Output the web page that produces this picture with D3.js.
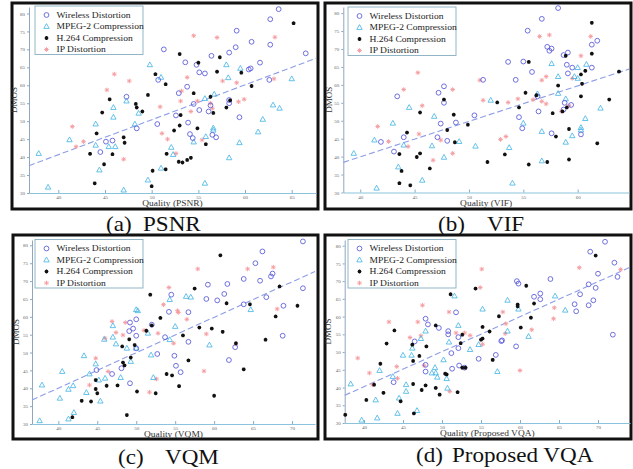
<!DOCTYPE html>
<html>
<head>
<meta charset="utf-8">
<title>DMOS vs quality</title>
<script src="https://cdn.jsdelivr.net/npm/d3@7"></script>
<style>
  body { margin: 0; background: #fff; }
</style>
</head>
<body>
<script>
// ---- data (quality score, DMOS) ----
var seriesNames = ["Wireless Distortion", "MPEG-2 Compression", "H.264 Compression", "IP Distortion"];
var metricNames = ["PSNR", "VIF", "VQM", "Proposed VQA"];
var captionTags = ["(a)", "(b)", "(c)", "(d)"];

var psnrWireless = [[63.6,81.2],[62.7,78.4],[59.1,75.2],[51.3,70.0],[59.0,70.6],[60.7,72.1],[62.7,71.3],[66.5,68.9],[56.4,68.2],[58.3,69.1],[53.6,66.4],[54.8,65.7],[55.1,63.6],[55.7,63.3],[61.6,66.3],[60.6,64.7],[60.4,64.4],[50.7,61.5],[53.8,59.6],[52.9,57.8],[62.6,61.5],[47.3,56.8],[54.5,54.8],[56.3,54.4],[58.3,55.9],[58.3,55.0],[55.1,53.1],[56.1,52.7],[52.6,51.6],[59.4,51.1],[50.6,49.2],[53.9,49.6],[54.1,46.4],[54.4,45.3],[56.5,46.2],[56.9,45.5],[48.4,48.0],[45.8,44.6],[45.1,44.3],[44.5,41.4]];
var psnrMpeg2 = [[37.9,41.0],[38.9,31.6],[41.2,44.8],[44.0,49.2],[44.0,43.3],[44.4,36.4],[45.4,42.9],[45.9,53.8],[45.9,51.1],[46.1,42.9],[47.0,30.8],[47.3,55.6],[48.2,49.2],[48.6,52.2],[49.8,65.7],[51.0,62.2],[49.6,33.6],[51.0,36.9],[52.1,42.7],[52.3,40.7],[54.5,44.2],[55.7,32.7],[55.7,56.3],[55.8,45.7],[56.7,57.5],[56.6,48.1],[56.6,47.5],[58.0,65.7],[58.2,62.1],[58.3,39.8],[59.4,44.0],[59.5,64.7],[61.4,47.0],[61.9,50.5],[63.0,54.5],[63.7,53.6],[65.0,61.8]];
var psnrH264 = [[65.2,77.3],[53.0,68.7],[57.3,67.8],[55.0,66.3],[57.0,63.8],[59.6,63.5],[50.4,63.1],[51.5,60.3],[49.6,57.3],[45.5,56.1],[60.7,59.8],[54.5,57.8],[56.3,56.8],[58.4,55.8],[48.3,54.8],[48.4,53.8],[58.0,53.8],[44.7,52.4],[49.0,52.7],[56.6,52.3],[53.1,51.7],[53.0,48.8],[54.9,48.0],[52.4,47.4],[44.1,46.6],[47.0,45.5],[47.1,44.0],[43.4,40.9],[45.8,40.8],[51.6,40.9],[55.8,43.6],[44.9,38.0],[52.9,38.7],[53.3,38.5],[53.8,39.2],[54.2,39.8],[50.1,36.2],[51.5,36.6],[43.9,32.7],[50.0,31.9]];
var psnrIP = [[54.5,73.8],[57.0,73.3],[63.2,73.4],[46.0,63.1],[47.6,61.2],[45.2,58.7],[53.8,62.2],[53.2,58.4],[57.6,61.2],[59.1,60.7],[63.1,61.8],[59.9,56.1],[59.3,55.4],[53.1,55.6],[54.9,55.6],[56.3,55.0],[56.5,53.6],[50.9,54.0],[54.2,52.7],[41.5,48.5],[41.9,42.9],[42.7,44.3],[47.0,39.4],[51.1,46.6],[51.7,45.0],[52.6,41.0],[55.4,44.8]];

var vifWireless = [[58.2,81.4],[56.7,78.4],[55.4,75.1],[57.2,70.6],[57.6,70.1],[57.4,69.5],[61.8,72.3],[61.3,71.2],[58.7,68.3],[59.1,69.0],[53.6,66.4],[55.0,66.5],[59.0,65.6],[59.5,64.8],[61.3,64.8],[55.8,63.6],[59.1,63.2],[51.3,61.4],[54.3,61.4],[43.4,56.8],[47.2,57.8],[47.7,59.6],[47.7,55.0],[56.3,56.8],[56.4,52.6],[58.8,55.0],[58.7,53.1],[59.4,54.4],[50.5,51.5],[54.6,51.0],[47.4,49.2],[48.8,49.5],[54.9,47.9],[57.6,46.5],[60.3,46.2],[44.0,45.4],[47.1,45.4],[41.9,44.1],[43.1,41.4],[48.0,44.4]];
var vifMpeg2 = [[39.4,40.9],[41.3,44.6],[41.5,31.2],[43.0,49.3],[43.5,37.1],[44.0,43.2],[44.5,53.7],[45.7,33.4],[46.6,43.0],[46.8,51.2],[47.7,39.8],[49.1,44.2],[50.6,42.9],[52.0,55.7],[53.7,42.5],[54.0,32.6],[55.0,49.3],[56.3,57.5],[56.7,47.0],[56.7,38.8],[57.6,65.9],[58.2,62.3],[58.2,57.6],[58.9,56.1],[58.9,44.0],[59.5,45.8],[59.7,62.3],[60.0,61.8],[60.0,64.8],[60.3,48.1],[60.3,47.4],[60.7,50.6],[60.8,65.7],[62.1,53.5]];
var vifH264 = [[61.3,77.3],[61.3,68.7],[58.9,68.1],[55.5,66.4],[60.7,63.9],[60.3,62.9],[63.8,63.7],[58.2,59.8],[60.4,60.3],[56.2,57.1],[55.2,57.8],[60.3,56.8],[62.9,55.9],[47.7,55.9],[52.6,55.1],[54.6,53.7],[45.5,52.3],[48.6,51.7],[57.7,52.1],[58.6,52.6],[59.0,53.7],[49.9,48.9],[48.0,47.4],[59.2,47.7],[44.3,46.7],[58.0,45.6],[48.7,44.0],[61.8,43.7],[43.6,40.7],[45.5,40.9],[45.2,39.9],[53.3,40.6],[51.7,38.5],[55.5,37.8],[57.2,38.5],[59.2,39.2],[46.4,36.7],[43.8,36.0],[43.6,32.6],[44.6,32.0]];
var vifIP = [[56.5,73.5],[57.4,73.9],[61.2,73.5],[45.3,63.4],[60.3,68.1],[56.7,61.3],[57.1,62.3],[51.0,61.3],[44.0,58.7],[48.5,58.7],[59.5,61.8],[51.3,55.7],[53.6,55.1],[54.5,56.1],[55.9,55.9],[56.7,55.4],[57.1,54.7],[58.5,52.6],[45.7,54.2],[41.6,48.4],[42.6,44.2],[45.4,46.3],[44.4,42.8],[47.4,44.6],[46.7,39.0],[48.5,40.9],[52.9,44.8],[53.4,45.6],[59.2,54.2]];

var vqmWireless = [[71.4,81.1],[66.2,78.3],[65.3,75.0],[63.8,70.6],[65.9,70.1],[67.3,71.3],[67.5,72.1],[59.2,69.0],[61.7,69.2],[61.3,66.4],[59.0,65.0],[60.4,64.6],[54.5,66.2],[63.8,63.5],[66.7,65.5],[68.9,63.1],[71.4,68.0],[54.2,61.4],[56.7,61.3],[50.0,59.3],[52.0,57.8],[49.2,58.4],[49.6,56.7],[49.1,56.0],[50.0,54.7],[53.7,54.3],[56.7,53.0],[68.8,54.7],[52.7,49.6],[54.9,49.1],[61.9,47.9],[62.7,51.5],[55.1,46.3],[55.7,44.5],[48.1,45.6],[46.9,44.0],[44.9,45.1],[49.2,41.4],[50.0,51.2]];
var vqmMpeg2 = [[37.6,30.9],[37.9,40.9],[40.2,37.2],[40.5,44.7],[41.3,39.7],[41.3,31.4],[41.9,40.7],[42.0,33.2],[43.3,49.1],[43.6,38.8],[44.0,44.0],[44.8,46.8],[45.2,42.3],[45.4,36.4],[46.0,42.8],[45.9,53.7],[47.0,54.3],[47.0,57.5],[47.4,52.4],[48.0,43.0],[48.8,51.2],[49.3,47.5],[50.0,62.0],[50.2,61.7],[50.0,51.2],[51.5,55.4],[51.9,49.3],[52.2,43.0],[54.3,64.8],[54.3,53.6],[55.0,57.3],[56.4,65.7],[57.0,65.5],[59.4,52.1],[64.7,62.0]];
var vqmH264 = [[60.8,77.2],[68.4,68.5],[57.5,67.9],[51.8,66.2],[61.6,63.8],[64.6,63.5],[70.7,63.1],[67.9,60.1],[53.1,59.7],[51.3,56.1],[52.0,57.6],[58.1,57.0],[59.7,56.7],[61.1,55.8],[56.0,54.8],[66.6,53.6],[62.8,52.6],[49.1,53.7],[48.2,51.7],[49.8,52.1],[49.3,48.6],[56.7,47.8],[48.3,47.2],[48.5,46.4],[53.9,44.0],[54.6,43.6],[63.8,45.3],[44.8,42.3],[46.2,40.7],[47.6,40.8],[55.5,40.6],[50.1,39.1],[52.5,38.6],[44.8,39.8],[45.0,38.6],[60.0,37.9],[43.0,36.5],[44.2,36.3],[48.8,32.5],[41.8,31.9]];
var vqmIP = [[67.6,73.9],[64.3,73.4],[57.9,73.4],[54.2,68.2],[53.5,63.4],[55.3,61.7],[55.4,61.2],[56.5,59.3],[68.1,62.2],[46.9,58.7],[48.6,58.4],[47.4,55.6],[48.3,54.9],[46.0,54.0],[51.0,56.2],[52.8,55.4],[54.8,52.6],[59.0,55.2],[44.8,48.4],[46.4,44.7],[44.0,40.9],[51.7,38.9],[52.6,42.6],[58.7,44.8],[62.8,52.4]];

var vqaWireless = [[70.9,81.1],[69.0,78.3],[72.1,75.2],[72.5,71.2],[70.0,72.1],[63.9,70.6],[59.6,70.0],[59.8,69.3],[69.7,68.1],[68.8,69.1],[67.7,66.3],[61.8,65.6],[62.6,66.5],[62.6,64.9],[69.4,64.6],[67.0,63.5],[68.8,63.2],[67.2,61.5],[51.8,61.2],[47.9,59.4],[48.2,57.8],[49.6,56.8],[50.8,55.9],[50.8,55.0],[52.1,54.2],[46.5,53.0],[52.1,51.1],[57.7,53.3],[57.6,53.1],[51.2,49.7],[56.9,49.2],[59.5,51.6],[54.7,48.1],[47.9,46.4],[51.3,45.3],[52.2,46.2],[52.9,45.6],[47.9,44.5],[43.8,41.5],[71.9,54.9]];
var vqaMpeg2 = [[38.3,41.0],[39.7,30.8],[41.7,31.4],[41.5,36.5],[42.0,44.8],[43.7,43.1],[44.3,32.7],[44.5,37.0],[45.0,49.1],[45.4,40.8],[45.4,38.9],[46.1,49.1],[46.2,51.1],[46.8,33.5],[47.3,53.8],[47.9,55.9],[48.7,44.1],[49.1,45.6],[49.2,44.1],[49.4,42.9],[50.2,47.8],[50.6,42.5],[50.7,39.8],[50.9,52.8],[51.6,65.8],[52.1,57.5],[53.6,50.7],[54.7,52.1],[55.2,62.1],[57.1,44.5],[58.4,64.6],[58.4,55.9],[59.8,62.1],[61.1,54.4],[64.5,65.8],[65.8,61.8]];
var vqaH264 = [[69.7,77.2],[60.8,68.7],[54.3,67.9],[51.1,66.3],[59.7,63.4],[59.7,62.9],[61.8,63.7],[61.4,59.7],[57.3,60.1],[55.2,57.1],[60.1,56.9],[56.1,55.8],[55.0,53.5],[55.2,53.8],[52.6,54.9],[49.2,57.5],[43.9,56.1],[42.9,52.4],[52.4,52.5],[48.0,51.6],[46.2,52.1],[46.3,47.5],[47.1,48.9],[56.5,47.8],[52.6,45.6],[53.0,45.6],[42.1,46.7],[41.3,40.8],[50.4,43.9],[50.6,43.7],[46.3,41.0],[47.9,40.6],[47.4,39.3],[49.2,39.9],[49.7,38.0],[52.0,38.7],[42.5,38.5],[40.3,36.5],[44.7,36.1],[46.4,32.7],[37.6,32.3]];
var vqaIP = [[55.1,73.4],[67.6,73.8],[72.9,73.3],[54.9,68.2],[47.5,63.2],[50.9,61.3],[57.8,61.3],[58.2,58.0],[64.4,62.5],[64.3,59.4],[61.5,56.3],[43.2,58.5],[46.9,58.5],[45.9,54.1],[47.3,54.6],[51.8,55.4],[52.9,55.4],[53.6,54.7],[55.2,52.2],[39.2,48.3],[40.7,44.1],[41.1,40.8],[44.2,45.9],[44.3,42.6],[47.7,46.2],[51.0,38.9],[60.0,44.8],[58.1,55.2]];

// axis limits, ticks and the fitted line (DMOS = slope * q + intercept)
var xDomains = [[36.86, 67.6], [38.44, 64.72], [36.62, 72.95], [37.53, 74.1]];
var yDomains = [[30, 81.8], [30, 81.7], [30, 81.5], [30, 81.6]];
var xTicks = [[40, 45, 50, 55, 60, 65], [40, 45, 50, 55, 60], [40, 45, 50, 55, 60, 65, 70], [40, 45, 50, 55, 60, 65, 70]];
var yTicks = [30, 35, 40, 45, 50, 55, 60, 65, 70, 75, 80];
var fitSlope = [0.973, 0.989, 0.991, 0.987];
var fitIntercept = [1.74, 0.38, 0.41, 0.76];

// ---- drawing ----
var W = 633, H = 469;
var FONT = "'Liberation Serif', 'Times New Roman', serif";
var svg = d3.select("body").append("svg").attr("width", W).attr("height", H);

var colors = ["#6060dc", "#3fb3e4", "#111111", "#f59a9e"];
var SX = 1.15; // text in the source figure is drawn a little wide

function stretchText(g, x, y, str, size, anchor, sx, fill) {
    return g.append("text")
        .attr("transform", "translate(" + x + "," + y + ") scale(" + sx + ",1)")
        .attr("text-anchor", anchor)
        .attr("font-family", FONT)
        .attr("font-size", size)
        .attr("fill", fill || "#222")
        .text(str);
}

// marker for series k, centred at 0,0
function marker(g, k) {
    if (k === 0) {
        g.append("circle").attr("r", 2.4).attr("fill", "none")
            .attr("stroke", colors[0]).attr("stroke-width", 0.9);
    } else if (k === 1) {
        g.append("path").attr("d", "M0,-2.9L2.7,1.9L-2.7,1.9Z").attr("fill", "none")
            .attr("stroke", colors[1]).attr("stroke-width", 0.8);
    } else {
        var r = k === 2 ? 1.9 : 2.3;
        var d = r * 0.72;
        g.append("path")
            .attr("d", "M" + (-r) + ",0H" + r + "M0," + (-r) + "V" + r +
                "M" + (-d) + "," + (-d) + "L" + d + "," + d + "M" + (-d) + "," + d + "L" + d + "," + (-d))
            .attr("fill", "none").attr("stroke", colors[k])
            .attr("stroke-width", k === 2 ? 1.1 : 0.9);
        if (k === 2) g.append("circle").attr("r", 1.1).attr("fill", colors[2]);
    }
}

// pixel layout for each panel
var panels = [
    { frame: [12, 3, 306, 206], px: [29, 316], py: [193, 7], legend: [35, 6], dmosX: 17, cap: [106, 143, 231],
      data: [psnrWireless, psnrMpeg2, psnrH264, psnrIP] },
    { frame: [325, 3, 306, 206], px: [343.3, 629], py: [192.5, 7], legend: [348, 7], dmosX: 332, cap: [438, 487, 231],
      data: [vifWireless, vifMpeg2, vifH264, vifIP] },
    { frame: [13, 235, 305, 204], px: [32, 315], py: [424, 240], legend: [35, 239.5], dmosX: 19, cap: [118, 165, 464],
      data: [vqmWireless, vqmMpeg2, vqmH264, vqmIP] },
    { frame: [325, 235, 306, 204], px: [344.7, 630], py: [423, 240], legend: [348, 239.5], dmosX: 331, cap: [416, 452, 462],
      data: [vqaWireless, vqaMpeg2, vqaH264, vqaIP] }
];

panels.forEach(function(p, i) {
    var x = d3.scaleLinear().domain(xDomains[i]).range(p.px);
    var y = d3.scaleLinear().domain(yDomains[i]).range(p.py);
    var g = svg.append("g");

    // outer black frame
    g.append("rect")
        .attr("x", p.frame[0]).attr("y", p.frame[1])
        .attr("width", p.frame[2]).attr("height", p.frame[3])
        .attr("fill", "#fff").attr("stroke", "#111").attr("stroke-width", 3);

    // x axis
    var xAxis = g.append("g").attr("transform", "translate(0," + p.py[0] + ")")
        .call(d3.axisBottom(x).tickValues(xTicks[i]).tickSize(-3).tickPadding(2.5).tickSizeOuter(0));
    xAxis.select(".domain").attr("stroke", "#8cc3dc").attr("stroke-width", 1);
    xAxis.selectAll(".tick line").attr("stroke", "#7fb2cc");
    xAxis.selectAll(".tick text").attr("font-size", 5).attr("fill", "#666")
        .attr("font-family", FONT);

    // y axis
    var yAxis = g.append("g").attr("transform", "translate(" + p.px[0] + ",0)")
        .call(d3.axisLeft(y).tickValues(yTicks).tickSize(2).tickPadding(2).tickSizeOuter(0));
    yAxis.select(".domain").attr("stroke", "#8fa6bf").attr("stroke-width", 1);
    yAxis.selectAll(".tick line").attr("stroke", "#8fa6bf");
    yAxis.selectAll(".tick text").attr("font-size", 5).attr("fill", "#666")
        .attr("font-family", FONT);

    // axis titles
    stretchText(g, (p.px[0] + p.px[1]) / 2, p.py[0] + 13.2, "Quality (" + metricNames[i] + ")", 8.2, "middle", SX, "#333");
    g.append("text")
        .attr("transform", "translate(" + p.dmosX + "," + (p.py[0] + p.py[1]) / 2 + ") rotate(-90)")
        .attr("text-anchor", "middle").attr("font-family", FONT)
        .attr("font-size", 9).attr("fill", "#333")
        .text("DMOS");

    // regression line
    var lineFn = d3.line().x(function(d) { return x(d); })
        .y(function(d) { return y(fitSlope[i] * d + fitIntercept[i]); });
    g.append("path").datum(xDomains[i])
        .attr("d", lineFn)
        .attr("fill", "none").attr("stroke", "#8d9de6").attr("stroke-width", 1.1)
        .attr("stroke-dasharray", "6,3");

    // points, IP first so the darker ones sit on top
    [3, 1, 0, 2].forEach(function(k) {
        g.selectAll(null).data(p.data[k]).enter().append("g")
            .attr("transform", function(d) { return "translate(" + x(d[0]) + "," + y(d[1]) + ")"; })
            .each(function() { marker(d3.select(this), k); });
    });

    // legend
    var lg = g.append("g").attr("transform", "translate(" + p.legend[0] + "," + p.legend[1] + ")");
    lg.append("rect").attr("width", 108).attr("height", 48.5)
        .attr("fill", "#fff").attr("stroke", "#86aebf").attr("stroke-width", 0.9);
    seriesNames.forEach(function(name, k) {
        var row = lg.append("g").attr("transform", "translate(0," + (9 + k * 11.5) + ")");
        marker(row.append("g").attr("transform", "translate(11.5,0)"), k);
        stretchText(row, 21.5, 2.8, name, 8.3, "start", SX, "#222");
    });

    // caption under the panel
    stretchText(svg, p.cap[0], p.cap[2], captionTags[i], 21, "start", 1.1, "#111");
    stretchText(svg, p.cap[1], p.cap[2], metricNames[i], 21, "start", 1.1, "#111");
});
</script>
</body>
</html>
